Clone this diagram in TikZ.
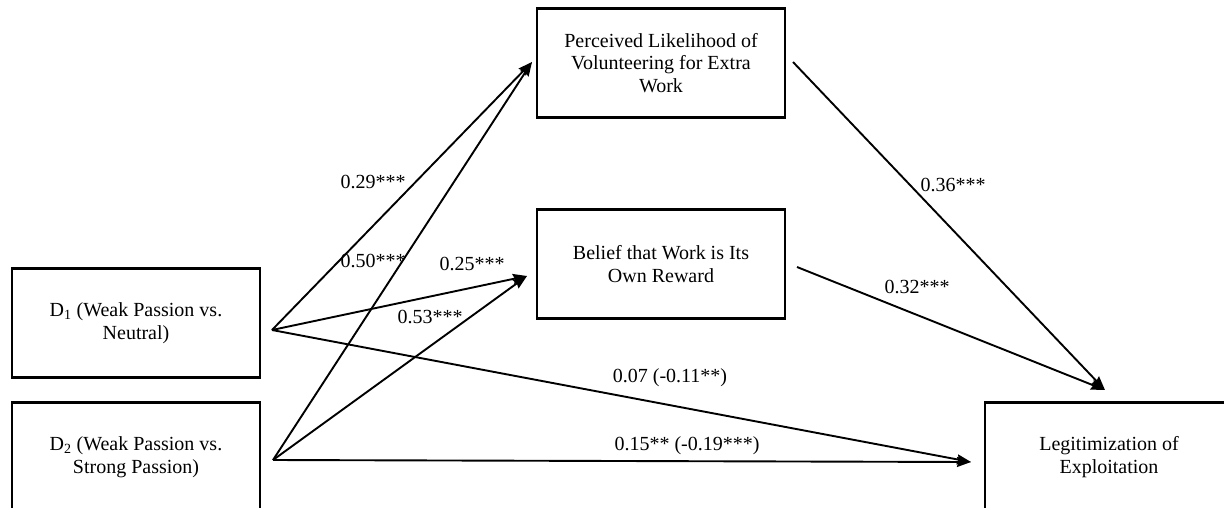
\documentclass[tikz,border=0pt]{standalone}
\usepackage{fontspec}
\setmainfont{Liberation Serif}
\usetikzlibrary{arrows.meta}

\begin{document}
\begin{tikzpicture}[x=1pt,y=-1pt,line width=1.9pt,inner sep=2pt,
	font=\fontsize{20}{22.5}\selectfont,
	box/.style={draw,line width=2.6pt,minimum width=248pt,minimum height=109pt,align=center},
	coef/.style={inner sep=0pt}]
	\useasboundingbox (0,0) rectangle (1224,507);
	\clip (0,0) rectangle (1224,507);
	\node[box] (d1) at (136,323) {D\textsubscript{1} (Weak Passion vs.\\Neutral)};
	\node[box] (d2) at (136,457) {D\textsubscript{2} (Weak Passion vs.\\Strong Passion)};
	\node[box] (perc) at (661,63) {Perceived Likelihood of\\Volunteering for Extra\\Work};
	\node[box] (belief) at (661,264) {Belief that Work is Its\\Own Reward};
	\node[box] (legit) at (1109,457) {Legitimization of\\Exploitation};
	\coordinate (d1out) at (272,330);
	\coordinate (d2out) at (273,460);
	\coordinate (percin) at (532,62);
	\coordinate (percout) at (793,62);
	\coordinate (belin) at (527,276);
	\coordinate (belout) at (797,267);
	\coordinate (legin) at (971,462);
	\coordinate (legtop) at (1105,390);
	\node[coef] (c29) at (373,182) {0.29***};
	\node[coef] (c50) at (373,261) {0.50***};
	\node[coef] (c25) at (472,264) {0.25***};
	\node[coef] (c53) at (430,317) {0.53***};
	\node[coef] (c07) at (670,378) {0.07 (-0.11**)};
	\node[coef] (c15) at (687,446) {0.15** (-0.19***)};
	\node[coef] (c36) at (953,185) {0.36***};
	\node[coef] (c32) at (917,287) {0.32***};
	\begin{scope}[->,>={Stealth[length=14pt,width=10pt,inset=1.5pt]}]
	\draw (d1out) -- (percin);
	\draw (d2out) -- (percin);
	\draw (d1out) -- (belin);
	\draw (d2out) -- (belin);
	\draw (d1out) -- (legin);
	\draw (d2out) -- (legin);
	\draw (percout) -- (legtop);
	\draw (belout) -- (legtop);
	\end{scope}
\end{tikzpicture}
\end{document}
